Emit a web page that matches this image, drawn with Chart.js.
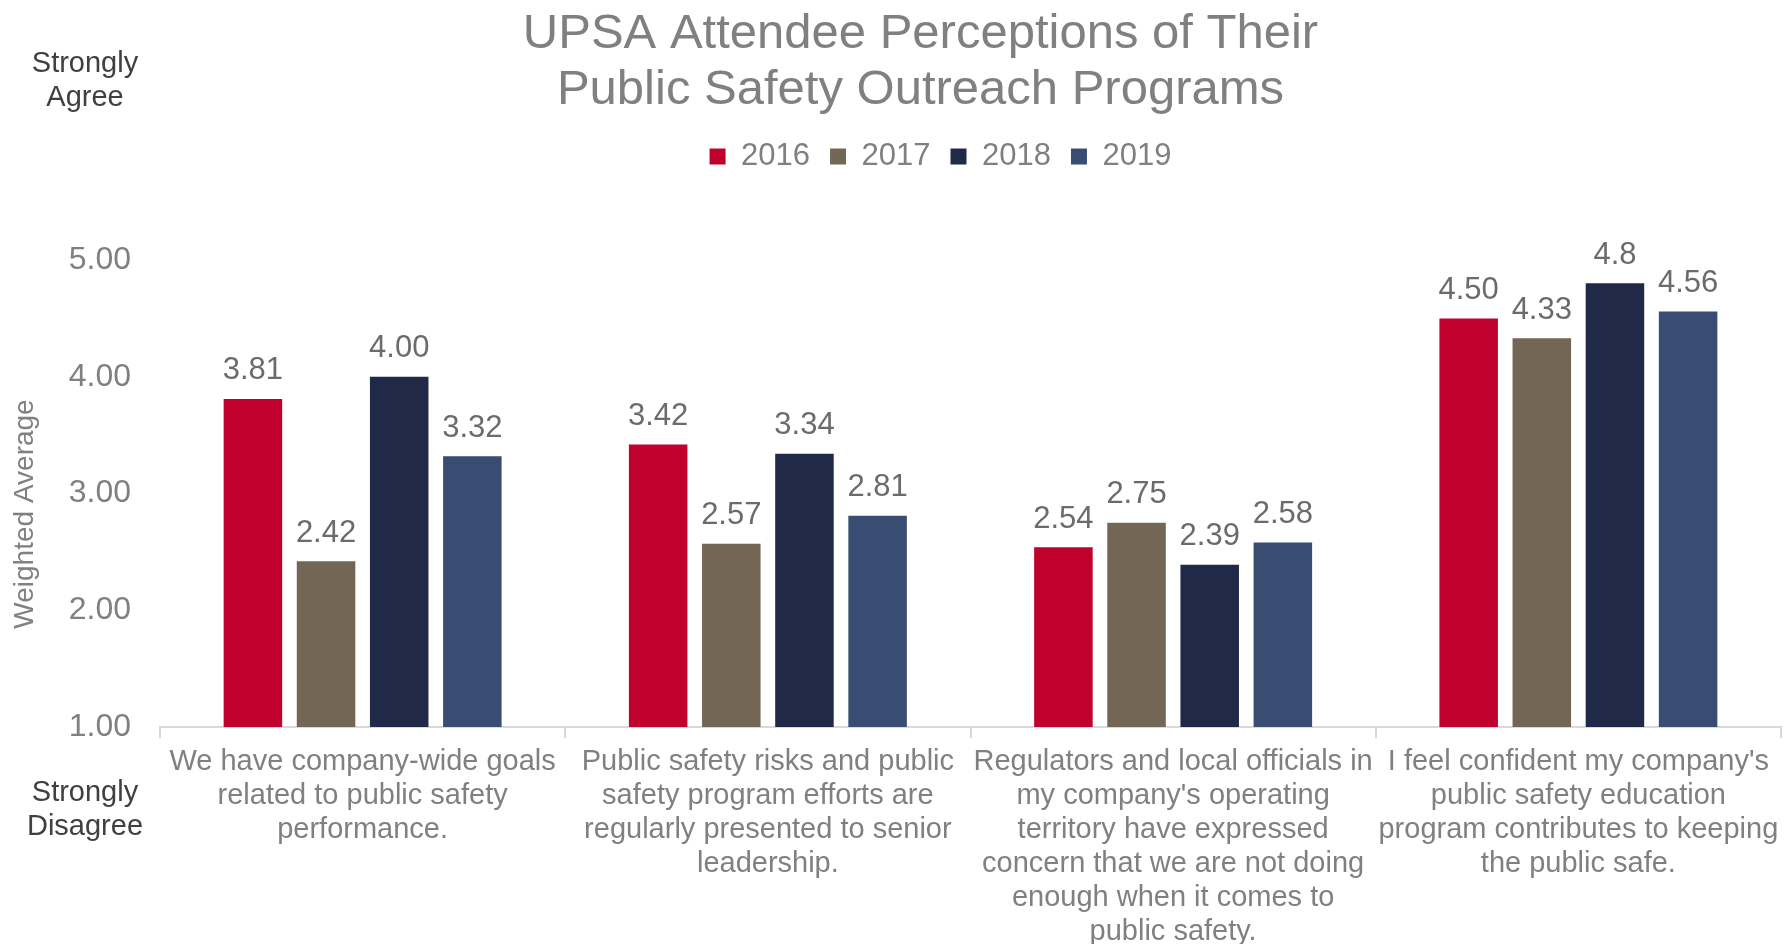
<!DOCTYPE html>
<html>
<head>
<meta charset="utf-8">
<script src="https://cdn.jsdelivr.net/npm/chart.js@4.4.1/dist/chart.umd.min.js"></script>
<style>
  html, body { margin: 0; padding: 0; background: #fff; }
</style>
</head>
<body>
<canvas id="myChart" width="1792" height="944"></canvas>
<script>
const categories = [
  ['We have company-wide goals', 'related to public safety', 'performance.'],
  ['Public safety risks and public', 'safety program efforts are', 'regularly presented to senior', 'leadership.'],
  ['Regulators and local officials in', "my company's operating", 'territory have expressed', 'concern that we are not doing', 'enough when it comes to', 'public safety.'],
  ["I feel confident my company's", 'public safety education', 'program contributes to keeping', 'the public safe.']
]
const years = ['2016', '2017', '2018', '2019']
const values2016 = [3.81, 3.42, 2.54, 4.50]
const values2017 = [2.42, 2.57, 2.75, 4.33]
const values2018 = [4.00, 3.34, 2.39, 4.8]
const values2019 = [3.32, 2.81, 2.58, 4.56]
// label text as printed on the chart
const text2016 = ['3.81', '3.42', '2.54', '4.50']
const text2017 = ['2.42', '2.57', '2.75', '4.33']
const text2018 = ['4.00', '3.34', '2.39', '4.8']
const text2019 = ['3.32', '2.81', '2.58', '4.56']
const yTicks = [1, 2, 3, 4, 5]

const FONT = '"Liberation Sans", Arial, sans-serif'

const barLabels = {
  id: 'barLabels',
  afterDatasetsDraw(chart) {
    const ctx = chart.ctx
    ctx.save()
    ctx.font = '31px ' + FONT
    ctx.fillStyle = '#6b6b6b'
    ctx.textAlign = 'center'
    ctx.textBaseline = 'middle'
    chart.data.datasets.forEach((ds, i) => {
      chart.getDatasetMeta(i).data.forEach((bar, j) => {
        ctx.fillText(ds.valueText[j], bar.x, bar.y - 28)
      })
    })
    ctx.restore()
  }
}

const sideText = {
  id: 'sideText',
  afterLayout(chart) {
    // legend sits a bit right of the title in the original
    chart.legend.left += 20
    chart.legend.right += 20
  },
  afterDraw(chart) {
    const ctx = chart.ctx
    ctx.save()
    ctx.font = '29px ' + FONT
    ctx.fillStyle = '#404040'
    ctx.textAlign = 'center'
    ctx.textBaseline = 'middle'
    ctx.fillText('Strongly', 85, 64)
    ctx.fillText('Agree', 85, 98)
    ctx.fillText('Strongly', 85, 793)
    ctx.fillText('Disagree', 85, 827)
    // y axis title
    ctx.fillStyle = '#808080'
    ctx.font = '28px ' + FONT
    ctx.translate(25, 514)
    ctx.rotate(-Math.PI / 2)
    ctx.fillText('Weighted Average', 0, 0)
    ctx.restore()
  }
}

const data = {
  labels: categories,
  datasets: [
    { label: years[0], data: values2016, valueText: text2016, backgroundColor: '#C0002D' },
    { label: years[1], data: values2017, valueText: text2017, backgroundColor: '#736655' },
    { label: years[2], data: values2018, valueText: text2018, backgroundColor: '#202947' },
    { label: years[3], data: values2019, valueText: text2019, backgroundColor: '#394D73' }
  ]
}
data.datasets.forEach(d => { d.barPercentage = 0.8; d.categoryPercentage = 0.722 })

const config = {
  type: 'bar',
  data: data,
  options: {
    responsive: false,
    animation: false,
    layout: { padding: { left: 60, right: 11, top: 0, bottom: 0 } },
    plugins: {
      title: {
        display: true,
        text: ['UPSA Attendee Perceptions of Their', 'Public Safety Outreach Programs'],
        color: '#808080',
        font: { family: FONT, size: 49, weight: 'normal', lineHeight: 1.143 },
        padding: { top: 6, bottom: 3 }
      },
      subtitle: {
        // empty spacer between legend and plot
        display: true,
        text: '',
        position: 'top',
        weight: 500,
        font: { size: 1, lineHeight: 1 },
        padding: { top: 0, bottom: 77 }
      },
      legend: {
        position: 'top',
        labels: {
          boxWidth: 16,
          boxHeight: 16,
          color: '#808080',
          font: { family: FONT, size: 31 },
          padding: 20
        }
      },
      tooltip: { enabled: false }
    },
    scales: {
      x: {
        grid: { display: true, drawOnChartArea: false, drawTicks: true, tickLength: 11, color: '#d9d9d9', lineWidth: 2, offset: true },
        border: { display: true, color: '#d9d9d9', width: 2 },
        ticks: { color: '#808080', font: { family: FONT, size: 29, lineHeight: 1.17 }, padding: 7, maxRotation: 0, autoSkip: false },
        afterFit(s) { s.height = 217 }
      },
      y: {
        min: yTicks[0],
        max: yTicks[yTicks.length - 1],
        grid: { display: false, drawTicks: false },
        border: { display: false },
        ticks: {
          stepSize: 1,
          color: '#808080',
          font: { family: FONT, size: 32 },
          padding: 29,
          callback: v => Number(v).toFixed(2)
        },
        afterFit(s) { s.width = 100 }
      }
    }
  },
  plugins: [barLabels, sideText]
}

const myChart = new Chart(document.getElementById('myChart'), config)
</script>
</body>
</html>
